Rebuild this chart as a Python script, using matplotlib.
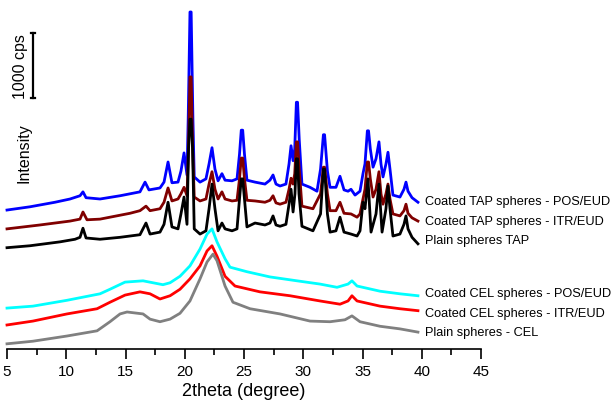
import matplotlib
matplotlib.use("Agg")
import matplotlib.pyplot as plt
import numpy as np

plt.rcParams['font.family'] = ['Liberation Sans', 'DejaVu Sans']

# 2theta (degree) and stacked intensity (cps)
tap_pos_x = [5.00, 6.94, 9.05, 10.32, 11.16, 11.41, 11.67, 12.85, 14.54, 16.22, 16.65, 16.98,
             17.91, 18.25, 18.59, 18.92, 19.43, 19.68, 19.94, 20.19, 20.29, 20.44, 20.54, 20.69,
             20.80, 21.29, 21.79, 22.05, 22.30, 22.55, 22.81, 23.14, 23.40, 23.99, 24.41, 24.62,
             24.77, 24.89, 25.04, 25.25, 25.93, 26.77, 27.19, 27.45, 27.70, 28.04, 28.54, 28.80,
             28.97, 29.14, 29.28, 29.42, 29.52, 29.66, 29.89, 30.57, 31.16, 31.46, 31.70, 31.80,
             32.04, 32.26, 32.76, 33.10, 33.44, 33.78, 34.03, 34.37, 34.79, 35.04, 35.21, 35.41,
             35.51, 35.66, 35.89, 36.14, 36.39, 36.56, 36.73, 36.98, 37.15, 37.32, 37.57, 38.16,
             38.50, 38.67, 38.84, 39.18, 39.68]
tap_pos_y = [2140, 2190, 2260, 2310, 2360, 2420, 2330, 2310, 2360, 2420, 2570, 2450,
             2480, 2570, 2880, 2560, 2570, 2740, 3020, 2680, 3540, 5190, 5190, 3540,
             2650, 2570, 2620, 2850, 3100, 2770, 2590, 2700, 2600, 2590, 2620, 3000,
             3370, 3370, 3000, 2600, 2570, 2540, 2600, 2680, 2540, 2510, 2540, 2850,
             3130, 2900, 3080, 3800, 3800, 3230, 2540, 2490, 2430, 2770, 3300, 3300,
             2740, 2490, 2490, 2660, 2450, 2430, 2460, 2370, 2430, 2700, 2850, 3360,
             3360, 3080, 2800, 2930, 3190, 2850, 2650, 2850, 3030, 2770, 2370, 2340,
             2460, 2570, 2430, 2330, 2260]

tap_itr_x = [5.00, 7.78, 10.32, 11.16, 11.41, 11.75, 12.85, 15.38, 16.22, 16.73, 17.07, 17.91,
             18.25, 18.59, 18.92, 19.43, 19.68, 19.94, 20.19, 20.31, 20.44, 20.54, 20.67, 20.80,
             21.29, 21.79, 22.05, 22.30, 22.55, 22.81, 23.14, 23.40, 23.99, 24.41, 24.62, 24.77,
             24.89, 25.04, 25.25, 25.93, 26.77, 27.19, 27.45, 27.70, 28.04, 28.54, 28.80, 28.97,
             29.14, 29.28, 29.42, 29.52, 29.66, 29.89, 30.82, 31.46, 31.70, 31.80, 32.04, 32.26,
             32.76, 33.10, 33.44, 34.03, 34.54, 34.79, 35.04, 35.21, 35.41, 35.51, 35.66, 35.89,
             36.14, 36.39, 36.56, 36.73, 36.98, 37.15, 37.32, 37.57, 38.16, 38.50, 38.67, 38.84,
             39.18, 39.68]
tap_itr_y = [1850, 1910, 1970, 2000, 2110, 1990, 2000, 2090, 2130, 2200, 2130, 2160,
             2260, 2480, 2280, 2310, 2390, 2490, 2360, 3080, 4190, 4190, 3080, 2340,
             2280, 2310, 2540, 2730, 2460, 2310, 2420, 2310, 2280, 2290, 2620, 2940,
             2940, 2620, 2290, 2280, 2260, 2290, 2360, 2250, 2230, 2260, 2460, 2630,
             2540, 2700, 3190, 3190, 2770, 2200, 2160, 2390, 2800, 2800, 2390, 2130,
             2130, 2260, 2090, 2080, 2030, 2080, 2310, 2460, 2880, 2880, 2620, 2340,
             2460, 2730, 2390, 2230, 2390, 2540, 2310, 2080, 2050, 2130, 2230, 2090,
             2020, 1970]

tap_plain_x = [5.00, 6.94, 9.47, 10.74, 11.16, 11.41, 11.67, 12.85, 14.54, 16.22, 16.73, 17.07,
               17.91, 18.25, 18.59, 18.92, 19.43, 19.68, 19.94, 20.19, 20.32, 20.44, 20.54, 20.66,
               20.80, 21.29, 21.79, 22.05, 22.30, 22.55, 22.81, 23.14, 23.40, 23.99, 24.41, 24.62,
               24.77, 24.89, 25.04, 25.25, 25.93, 26.77, 27.19, 27.45, 27.70, 28.04, 28.54, 28.80,
               28.97, 29.14, 29.30, 29.42, 29.52, 29.64, 29.89, 30.82, 31.46, 31.70, 31.80, 32.04,
               32.26, 32.76, 33.10, 33.44, 34.03, 34.54, 34.79, 35.04, 35.21, 35.46, 35.72, 36.14,
               36.39, 36.65, 36.98, 37.15, 37.32, 37.57, 38.16, 38.50, 38.67, 38.84, 39.18, 39.68]
tap_plain_y = [1560, 1590, 1650, 1690, 1720, 1860, 1710, 1690, 1720, 1760, 1940, 1770,
               1800, 1920, 2260, 1880, 1850, 2080, 2340, 1920, 3080, 3540, 3540, 3080,
               1850, 1770, 1820, 2160, 2540, 2160, 1820, 1940, 1850, 1820, 1850, 2310,
               2620, 2620, 2310, 1880, 1940, 1910, 1940, 2050, 1910, 1890, 1920, 2230,
               2460, 2110, 2390, 2930, 2930, 2390, 1890, 1820, 2080, 2770, 2770, 2080,
               1800, 1820, 2030, 1800, 1770, 1740, 1820, 2260, 2160, 2620, 1800, 2080,
               2540, 1800, 2160, 2510, 2160, 1740, 1770, 1920, 2050, 1850, 1720, 1620]

cel_pos_x = [5.00, 7.19, 10.06, 12.85, 13.69, 14.96, 16.48, 18.16, 18.76, 19.60, 20.44, 21.29,
             21.88, 22.30, 22.72, 23.40, 23.82, 25.25, 27.19, 29.47, 31.41, 32.85, 33.78, 34.11,
             34.54, 36.48, 38.16, 39.68]
cel_pos_y = [630, 660, 750, 850, 920, 1030, 1050, 990, 1020, 1120, 1280, 1540,
             1770, 1850, 1650, 1390, 1260, 1190, 1110, 1050, 1000, 950, 1000, 1050,
             970, 890, 850, 820]

cel_itr_x = [5.00, 7.19, 10.06, 12.60, 13.69, 14.96, 16.22, 17.07, 17.91, 18.76, 19.60, 20.44,
             21.29, 21.88, 22.30, 22.72, 23.40, 24.24, 26.35, 28.88, 31.41, 33.10, 33.78, 34.11,
             34.54, 36.48, 38.16, 39.68]
cel_itr_y = [370, 430, 540, 620, 720, 830, 880, 850, 770, 820, 920, 1080,
             1280, 1510, 1590, 1430, 1120, 970, 880, 820, 740, 690, 740, 820,
             740, 660, 620, 590]

cel_plain_x = [5.00, 7.19, 10.06, 12.60, 13.69, 14.54, 15.13, 16.48, 17.07, 17.91, 18.76, 19.60,
               20.44, 21.29, 21.88, 22.38, 22.72, 23.40, 24.07, 25.51, 28.04, 30.57, 32.26, 33.52,
               34.11, 34.79, 36.48, 38.16, 39.68]
cel_plain_y = [80, 120, 200, 280, 420, 540, 570, 540, 460, 420, 460, 550,
               740, 1080, 1340, 1460, 1360, 970, 720, 620, 540, 430, 420, 450,
               510, 420, 350, 310, 260]

labels = ['Coated TAP spheres - POS/EUD', 'Coated TAP spheres - ITR/EUD', 'Plain spheres TAP',
          'Coated CEL spheres - POS/EUD', 'Coated CEL spheres - ITR/EUD', 'Plain spheres - CEL']
label_y = [2280, 1970, 1680, 860, 550, 260]
colors = ['#0000ff', '#800000', '#000000', '#00ffff', '#ff0000', '#808080']

series = [(tap_pos_x, tap_pos_y), (tap_itr_x, tap_itr_y), (tap_plain_x, tap_plain_y),
          (cel_pos_x, cel_pos_y), (cel_itr_x, cel_itr_y), (cel_plain_x, cel_plain_y)]

fig = plt.figure(figsize=(6.16, 4.06), dpi=100)
ax = fig.add_axes([7 / 616, 56 / 406, 474 / 616, 350 / 406])

for (x, y), c in zip(series, colors):
    ax.plot(x, y, color=c, linewidth=2.0, clip_on=False, solid_joinstyle='round')

for lab, ly in zip(labels, label_y):
    ax.text(40.3, ly, lab, fontsize=9.2, va='center', ha='left')

# scale bar 1000 cps
ax.plot([7.19, 7.19], [3870, 4870], color='black', linewidth=1.6)
ax.plot([7.0, 7.38], [3870, 3870], color='black', linewidth=1.6)
ax.plot([7.0, 7.38], [4870, 4870], color='black', linewidth=1.6)
ax.text(6.1, 4370, '1000 cps', rotation=90, fontsize=11.5, ha='center', va='center')
ax.text(6.4, 3030, 'Intensity', rotation=90, fontsize=11.5, ha='center', va='center')

ax.set_xlim(5, 45)
ax.set_ylim(0, 5390)
ax.set_xticks(np.arange(5, 46, 5))
ax.set_xticks(np.arange(7.5, 45, 5), minor=True)
ax.tick_params(axis='x', which='major', length=7, width=1.2, labelsize=11, pad=4)
ax.tick_params(axis='x', which='minor', length=4, width=1.2)
ax.set_yticks([])
for s in ['left', 'top', 'right']:
    ax.spines[s].set_visible(False)
ax.spines['bottom'].set_linewidth(1.2)
ax.set_xlabel('2theta (degree)', fontsize=13, labelpad=3)
ax.patch.set_alpha(0)

fig.savefig('out.png', dpi=100)
